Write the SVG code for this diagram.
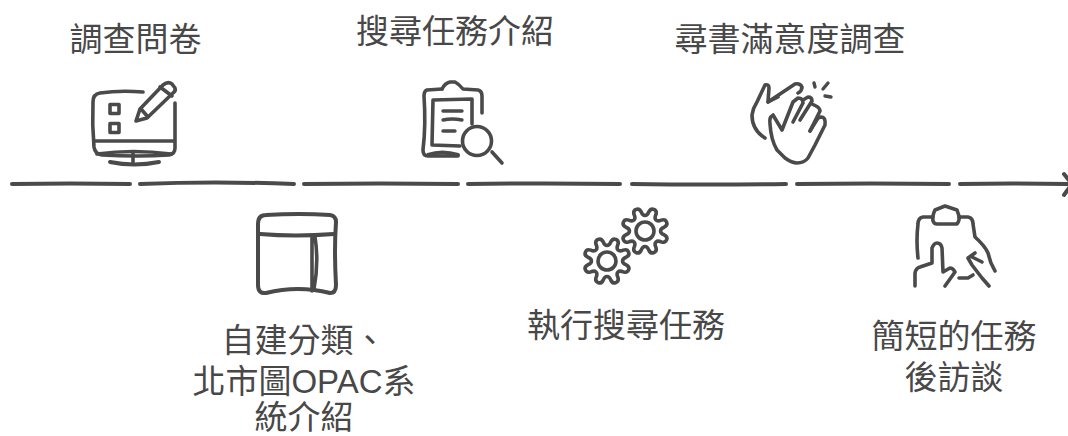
<svg xmlns="http://www.w3.org/2000/svg" width="1068" height="436" viewBox="0 0 1068 436">
<style>
text{font-family:"Liberation Sans","Noto Sans CJK TC",sans-serif;font-size:33px;fill:#484848;text-anchor:middle}
.l,.i,.t{fill:none;stroke:#4a4a4a;stroke-linecap:round;stroke-linejoin:round}
.l{stroke-width:4}
.i{stroke-width:3.6}
.t{stroke-width:3.4}
</style>
<defs>
<path id="g" class="i" d="M19.13 3.8C24.2 6.26 21.54 12.69 16.21 10.83C11.58 8.73 8.73 11.58 10.83 16.21C12.69 21.54 6.26 24.2 3.8 19.13C2.02 14.36-2.02 14.36-3.8 19.13C-6.26 24.2-12.69 21.54-10.83 16.21C-8.73 11.58-11.58 8.73-16.21 10.83C-21.54 12.69-24.2 6.26-19.13 3.8C-14.36 2.02-14.36-2.02-19.13-3.8C-24.2-6.26-21.54-12.69-16.21-10.83C-11.58-8.73-8.73-11.58-10.83-16.21C-12.69-21.54-6.26-24.2-3.8-19.13C-2.02-14.36 2.02-14.36 3.8-19.13C6.26-24.2 12.69-21.54 10.83-16.21C8.73-11.58 11.58-8.73 16.21-10.83C21.54-12.69 24.2-6.26 19.13-3.8C14.36-2.02 14.36 2.02 19.13 3.8Z"/>
</defs>
<rect width="1068" height="436" fill="#fff"/>
<g id="connectors">
<path class="l" d="M12 184Q70 183 130 184"/>
<path class="l" d="M140 184Q215 181 294 184"/>
<path class="l" d="M304 184Q380 183 458 184"/>
<path class="l" d="M468 184Q545 183 620 184"/>
<path class="l" d="M632 184Q710 185 786 184"/>
<path class="l" d="M797 184Q870 183 949 184"/>
<path class="l" d="M960 184Q1010 183 1068 184"/>
<path class="l" d="M1064 174L1072 184L1064 195"/>
</g>
<g id="n1">
<text x="135.500" y="51">調查問卷</text>
<path class="i" d="M143 92Q120 90 100 93Q93 94 93 102Q92 125 94 147Q95 154 102 155Q138 157 169 155Q175 154 175 148L175 103"/>
<path class="i" d="M95 141L174 141"/>
<path class="i" d="M97 154Q133 149 171 154"/>
<path class="i" d="M133 152L133 162"/>
<path class="l" d="M110 162Q134 167 159 162"/>
<rect class="i" x="110" y="104.500" width="9" height="9"/>
<rect class="i" x="110" y="123.500" width="9" height="9"/>
<path class="i" d="M136 121L140 109L163 85Q168 81 172 84L175 88Q176 91 173 93L147 118Z"/>
<path class="i" d="M141 109L148 117M160 87L172 96"/>
</g>
<g id="n2">
<text x="455" y="43">搜尋任務介紹</text>
<path class="i" d="M442 89L427 90Q424 91 424 96Q426 125 423 150Q423 156 428 156L458 156"/>
<path class="i" d="M442 89Q445 83 450 82L455 82Q459 84 463 89L478 90Q482 91 482 96L482 113"/>
<path class="i" d="M472 124L472 99L433 100L432 145L460 146"/>
<path class="t" d="M443 111L462 111M443 120Q452 118 462 120M443 131L455 131"/>
<path class="l" d="M428 155Q442 150 458 155"/>
<circle class="i" cx="477" cy="141" r="14.500"/>
<path class="i" d="M492 152L502 163"/>
</g>
<g id="n3">
<text x="790" y="51">尋書滿意度調查</text>
<path class="i" d="M765 138Q752 130 752 115Q753 108 757 102L765 85Q769 84 769 88L768 102L795 84Q800 83 802 87Q802 91 798 93"/>
<path class="i" d="M768 102L778 97"/>
<path class="i" d="M773 116Q769 116 770 124Q771 140 777 150L785 158Q792 163 797 163Q804 163 808 158L815 145L825 125Q826 117 821 117L818 118L810 131"/>
<path class="i" d="M773 115L782 130L793 102L798 98Q803 98 803 103L793 122M803 100L808 97Q812 97 812 101L800 120M812 104L816 106Q820 108 820 111L810 131"/>
<path class="t" d="M814 83L815 87M828 83L823 89M825 96L831 97"/>
</g>
<g id="n4">
<text x="304" y="352">自建分類、</text>
<text x="304" y="393">北市圖OPAC系</text>
<text x="304" y="429">統介紹</text>
<path class="l" d="M266 215Q300 213 330 215Q336 216 336 222Q334 250 336 285Q336 293 330 293Q298 285 266 293Q258 294 258 285L258 224Q258 215 266 215Z"/>
<path class="l" d="M260 234Q295 237 334 234"/>
<path class="i" d="M312 236L312 291M315 237Q319 262 314 289"/>
</g>
<g id="n5">
<text x="626" y="337">執行搜尋任務</text>
<g transform="translate(645 231)"><circle class="i" r="9"/><use href="#g"/></g>
<g transform="translate(607 261)"><circle class="i" r="9"/><use href="#g"/></g>
</g>
<g id="n6">
<text x="954" y="348">簡短的任務</text>
<text x="954" y="389">後訪談</text>
<path class="i" d="M933 217L923 217Q918 218 918 224Q916 240 918 258"/>
<path class="i" d="M959 217L968 217Q973 218 973 224L975 237Q985 246 988 253Q990 260 991 263L995 271"/>
<path class="i" d="M937 224L957 224Q960 220 959 216L957 210L945 206L935 210Q932 216 933 221Q934 224 937 224Z"/>
<path class="i" d="M915 286L915 273Q916 268 920 267L932 263L932 248Q934 243 937 243Q941 243 942 248L943 272L950 268Q953 268 955 272L945 286"/>
<path class="i" d="M959 278L968 278L973 275"/>
<path class="i" d="M975 253L968 258L972 265L982 278L989 286"/>
<path class="i" d="M972 257L982 262"/>
</g>
</svg>
